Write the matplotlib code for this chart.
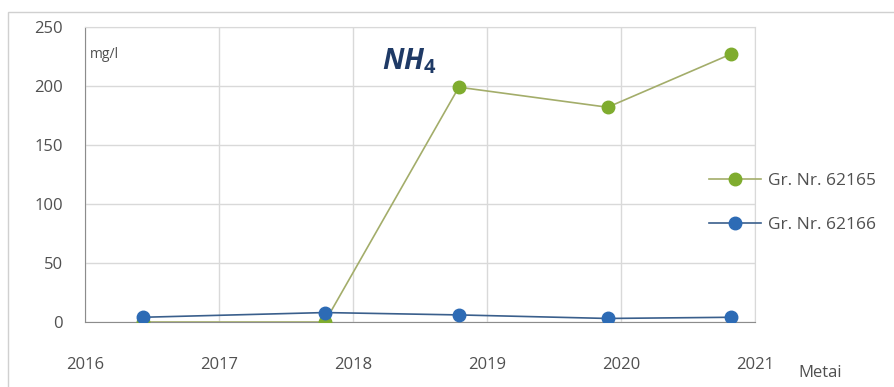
import matplotlib.pyplot as plt
from matplotlib.patches import Rectangle

plt.rcParams['font.family'] = ['Open Sans', 'DejaVu Sans']
plt.rcParams['mathtext.fontset'] = 'custom'
plt.rcParams['mathtext.it'] = 'Open Sans:italic:bold'
plt.rcParams['mathtext.rm'] = 'Open Sans:bold'

# sampling dates (decimal years) and NH4 concentrations, mg/l
dates = [2016.43, 2017.79, 2018.79, 2019.90, 2020.82]
nh4_62165 = [0, 0, 199, 182, 227]
nh4_62166 = [4, 8, 6, 3, 4]
series_labels = ['Gr. Nr. 62165', 'Gr. Nr. 62166']
year_ticks = [2016, 2017, 2018, 2019, 2020, 2021]
y_ticks = [0, 50, 100, 150, 200, 250]

green = '#7fac2e'
green_line = '#a3ad6a'
blue = '#2d6bb5'
blue_line = '#3a5f8c'
text_col = '#505050'

fig = plt.figure(figsize=(8.95, 3.87), dpi=100)
fig.patches.append(Rectangle((8 / 895, -0.1), 1.2, 1 - 12 / 387 + 0.1, transform=fig.transFigure,
                             fill=False, edgecolor='#d0d0d0', linewidth=1))
ax = fig.add_axes([85 / 895, 1 - 322 / 387, 670 / 895, 295 / 387])

ax.plot(dates, nh4_62165, color=green_line, linewidth=1.2, marker='o', markersize=9,
        markerfacecolor=green, markeredgecolor=green, label=series_labels[0], zorder=3)
ax.plot(dates, nh4_62166, color=blue_line, linewidth=1.2, marker='o', markersize=9,
        markerfacecolor=blue, markeredgecolor=blue, label=series_labels[1], zorder=4)

ax.set_xlim(2016, 2021)
ax.set_ylim(0, 250)
ax.set_xticks(year_ticks)
ax.set_yticks(y_ticks)
ax.grid(True, color='#d9d9d9', linewidth=1)
ax.set_axisbelow(True)
for s in ['top', 'right']:
    ax.spines[s].set_color('#d9d9d9')
for s in ['left', 'bottom']:
    ax.spines[s].set_color('#8c8c8c')
ax.tick_params(axis='both', length=0, labelsize=12, colors=text_col)
ax.tick_params(axis='y', pad=16)
ax.tick_params(axis='x', pad=25)

ax.text(0.008, 0.895, 'mg/l', transform=ax.transAxes, fontsize=10, color=text_col)
ax.text(0.484, 0.885, r'$NH_4$', transform=ax.transAxes, fontsize=20.5,
        color='#1f3a66', ha='center', va='center')
fig.text(820 / 895, 1 - 373 / 387, 'Metai', fontsize=12, color=text_col, ha='center', va='center')

fig.legend(loc='center left', bbox_to_anchor=(702 / 895, 1 - 203 / 387), frameon=False,
           fontsize=12.5, labelcolor=text_col, labelspacing=1.65, handlelength=3.0,
           handletextpad=0.4, borderaxespad=0)

fig.savefig('out.png', dpi=100)
